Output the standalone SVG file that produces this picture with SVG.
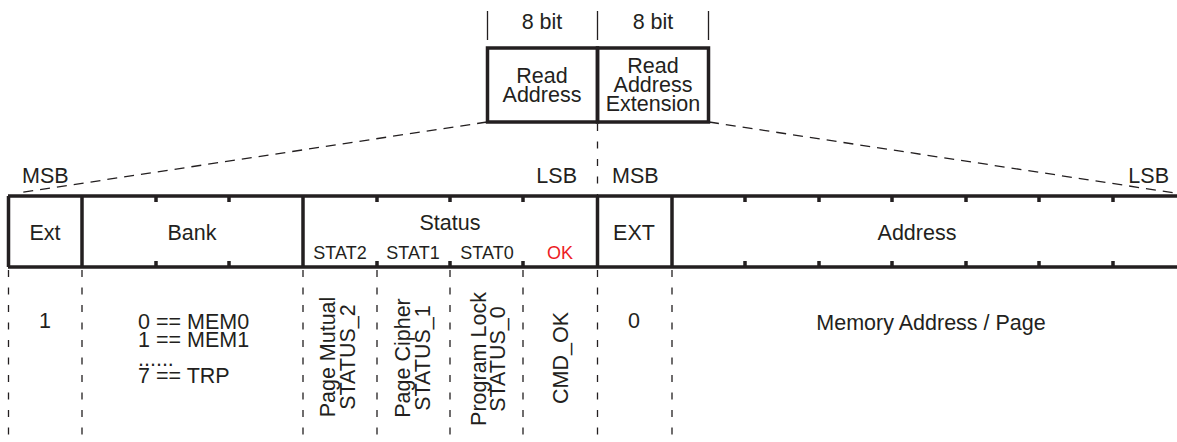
<svg xmlns="http://www.w3.org/2000/svg" width="1177" height="442" viewBox="0 0 1177 442">
<style>
text{font-family:"Liberation Sans",Arial,sans-serif;fill:#231f20;font-size:21.5px}
.m{text-anchor:middle}
.s{font-size:18px}
.red{fill:#ed1c24}
.thick{stroke:#231f20;stroke-width:3.5;fill:none}
.thin{stroke:#231f20;stroke-width:1.3;fill:none}
.tick{stroke:#231f20;stroke-width:3.5}
.dash{stroke:#231f20;stroke-width:1.3;fill:none;stroke-dasharray:10 7}
.vdash{stroke:#231f20;stroke-width:1.3;fill:none;stroke-dasharray:7 10.5}
</style>
<rect width="1177" height="442" fill="#fff"/>
<g id="bit-widths">
<path class="thin" d="M487.5 11V40M597.5 11V40M708.5 11V40"/>
<text class="m" x="542" y="29">8 bit</text>
<text class="m" x="653" y="29">8 bit</text>
</g>
<g id="read-address">
<rect class="thick" x="487.5" y="48" width="110" height="74"/>
<text class="m" x="542" y="83">Read<tspan x="542" dy="19">Address</tspan></text>
</g>
<g id="read-address-extension">
<rect class="thick" x="597.5" y="48" width="111" height="74"/>
<text class="m" x="653" y="73">Read<tspan x="653" dy="19">Address</tspan><tspan x="653" dy="19">Extension</tspan></text>
</g>
<g id="connectors">
<path class="dash" d="M487 122L18 193"/>
<path class="dash" d="M709 122L1175 193"/>
<path class="vdash" d="M597.5 124V195"/>
<path class="vdash" d="M8.5 270V442M82 270V442M303 270V442M377 270V442M450 270V442M523 270V442M597.5 270V442M672 270V442"/>
</g>
<g id="bit-order-labels">
<text x="22" y="183">MSB</text>
<text x="577" y="183" text-anchor="end">LSB</text>
<text x="612" y="183">MSB</text>
<text x="1169" y="183" text-anchor="end">LSB</text>
</g>
<g id="register-bar">
<path class="thick" d="M8 196H1177M8 267H1177M8.5 196V267M82 196V267M303 196V267M597.5 196V267M672 196V267"/>
<path class="tick" d="M156 196V202M229 196V202M377 196V202M450 196V202M523 196V202M745 196V202M819 196V202M892 196V202M966 196V202M1039 196V202M1113 196V202"/>
<path class="tick" d="M156 261V267M229 261V267M377 261V267M450 261V267M523 261V267M745 261V267M819 261V267M892 261V267M966 261V267M1039 261V267M1113 261V267"/>
</g>
<g id="field-ext">
<text class="m" x="45" y="240">Ext</text>
<text class="m" x="45" y="328">1</text>
</g>
<g id="field-bank">
<text class="m" x="192" y="240">Bank</text>
<text x="138" y="329">0 == MEM0<tspan x="138" dy="18">1 == MEM1</tspan><tspan x="138" dy="19">......</tspan><tspan x="138" dy="17">7 == TRP</tspan></text>
</g>
<g id="field-status">
<text class="m" x="450" y="230">Status</text>
<text class="m s" x="340" y="259">STAT2</text>
<text class="m s" x="413" y="259">STAT1</text>
<text class="m s" x="487" y="259">STAT0</text>
<text class="m s red" x="560" y="259">OK</text>
<text class="m" transform="translate(335 357) rotate(-90)"><tspan x="0" y="0">Page Mutual</tspan><tspan x="0" y="20">STATUS_2</tspan></text>
<text class="m" transform="translate(410 358) rotate(-90)"><tspan x="0" y="0">Page Cipher</tspan><tspan x="0" y="20">STATUS_1</tspan></text>
<text class="m" transform="translate(485.5 359) rotate(-90)"><tspan x="0" y="0">Program Lock</tspan><tspan x="0" y="19.5">STATUS_0</tspan></text>
<text class="m" transform="translate(568 358) rotate(-90)">CMD_OK</text>
</g>
<g id="field-EXT">
<text class="m" x="634" y="240">EXT</text>
<text class="m" x="634" y="328">0</text>
</g>
<g id="field-address">
<text class="m" x="917" y="240">Address</text>
<text class="m" x="931" y="330">Memory Address / Page</text>
</g>
</svg>
